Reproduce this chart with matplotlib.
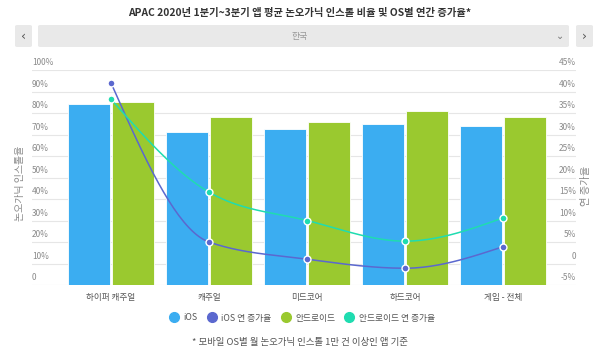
import numpy as np
import matplotlib
matplotlib.use('Agg')
import matplotlib.pyplot as plt
from matplotlib.patches import FancyBboxPatch
from matplotlib.lines import Line2D

plt.rcParams['font.family'] = ['Noto Sans CJK KR', 'DejaVu Sans']

# datos
categorias = ['하이퍼 캐주얼', '캐주얼', '미드코어', '하드코어', '게임 - 전체']
ios = [84, 71, 72.5, 75, 74]
android = [85, 78, 76, 81, 78]
ios_crec = [42, 5, 1, -1.1, 3.9]
android_crec = [38.2, 16.6, 10, 5.2, 10.6]
ticks_izq = [0, 10, 20, 30, 40, 50, 60, 70, 80, 90, 100]
ticks_der = [-5, 0, 5, 10, 15, 20, 25, 30, 35, 40, 45]

c_ios = '#3badf1'
c_and = '#9ac92f'
c_ios_l = '#5b68cf'
c_and_l = '#1fdcb0'
c_txt = '#8a8a8a'


def monotone(x, y, n=40):
    # curva monotona estilo d3 (monotoneX)
    x = np.asarray(x, float)
    y = np.asarray(y, float)
    h = np.diff(x)
    s = np.diff(y) / h
    m = np.zeros(len(x))
    for i in range(1, len(x) - 1):
        p = (s[i - 1] * h[i] + s[i] * h[i - 1]) / (h[i - 1] + h[i])
        m[i] = (np.sign(s[i - 1]) + np.sign(s[i])) * min(abs(s[i - 1]), abs(s[i]), 0.5 * abs(p))
    m[0] = (3 * s[0] - m[1]) / 2
    m[-1] = (3 * s[-1] - m[-2]) / 2
    xs, ys = [], []
    for i in range(len(x) - 1):
        t = np.linspace(0, 1, n)
        h00 = 2 * t**3 - 3 * t**2 + 1
        h10 = t**3 - 2 * t**2 + t
        h01 = -2 * t**3 + 3 * t**2
        h11 = t**3 - t**2
        xs.extend(x[i] + t * h[i])
        ys.extend(h00 * y[i] + h10 * h[i] * m[i] + h01 * y[i + 1] + h11 * h[i] * m[i + 1])
    return np.array(xs), np.array(ys)


W, H = 600, 357
fig = plt.figure(figsize=(6, 3.57), dpi=100)

# ejes: rejilla de x=32 a 576 px, y=70 a 285 px
ax = fig.add_axes([32 / W, (H - 285) / H, 544 / W, 215 / H])
x = np.arange(len(categorias))
px_cat = 98.0
ax.set_xlim(-0.5 - (62 - 32) / px_cat, -0.5 - (62 - 32) / px_cat + 544 / px_cat)
ax.set_ylim(0, 100)
for sp in ax.spines.values():
    sp.set_visible(False)
ax.set_xticks([])
ax.set_yticks([])

for t in ticks_izq:
    ax.axhline(t, color='#e6e6e6', lw=0.8, zorder=0)
    ax.text(0, t + 1.2, '0' if t == 0 else f'{t}%', transform=ax.get_yaxis_transform(),
            ha='left', va='bottom', fontsize=6, color=c_txt)

w = 0.43
ax.bar(x - w / 2 - 0.01, ios, w, color=c_ios, edgecolor='white', linewidth=0.6, zorder=2)
ax.bar(x + w / 2 + 0.01, android, w, color=c_and, edgecolor='white', linewidth=0.6, zorder=2)

for i, c in enumerate(categorias):
    ax.text(i, -3.5, c, ha='center', va='top', fontsize=6.2, color='#555555')

ax2 = ax.twinx()
ax2.set_ylim(-5, 45)
for sp in ax2.spines.values():
    sp.set_visible(False)
ax2.set_yticks([])
for t in ticks_der:
    ax2.text(1, t + 0.6, '0' if t == 0 else f'{t}%', transform=ax2.get_yaxis_transform(),
             ha='right', va='bottom', fontsize=6, color=c_txt)

for vals, col in [(ios_crec, c_ios_l), (android_crec, c_and_l)]:
    xs, ys = monotone(x, vals)
    ax2.plot(xs, ys, color=col, lw=1.1, zorder=3)
    ax2.plot(x, vals, 'o', color=col, markersize=5, markeredgecolor='white',
             markeredgewidth=1, zorder=4)

fig.text(20 / W, 1 - 183 / H, '논오가닉 인스톨율', rotation=90, ha='center', va='center',
         fontsize=7.2, color=c_txt)
fig.text(586 / W, 1 - 186 / H, '연 증가율', rotation=90, ha='center', va='center',
         fontsize=7.4, color=c_txt)

# titulo y selector
fig.text(0.5, 1 - 13 / H, 'APAC 2020년 1분기~3분기 앱 평균 논오가닉 인스톨 비율 및 OS별 연간 증가율*',
         ha='center', va='center', fontsize=7.4, fontweight='bold', color='#333333')
for (x0, x1) in [(15, 32), (38, 569), (576, 593)]:
    fig.patches.append(FancyBboxPatch((x0 / W, 1 - 47 / H), (x1 - x0) / W, 22 / H,
                                      boxstyle='round,pad=0,rounding_size=0.004',
                                      transform=fig.transFigure, facecolor='#e9e9e9',
                                      edgecolor='none'))
fig.text(23.5 / W, 1 - 36 / H, '‹', ha='center', va='center', fontsize=9, color='#555555',
         family='DejaVu Sans')
fig.text(584.5 / W, 1 - 36 / H, '›', ha='center', va='center', fontsize=9, color='#555555',
         family='DejaVu Sans')
fig.text(560 / W, 1 - 36 / H, '⌄', ha='center', va='center', fontsize=7, color='#777777',
         family='DejaVu Sans')
fig.text(0.5, 1 - 36 / H, '한국', ha='center', va='center', fontsize=6.4, color='#999999')

# leyenda
handles = [Line2D([], [], marker='o', ls='', color=c, markersize=7, label=l)
           for c, l in [(c_ios, 'iOS'), (c_ios_l, 'iOS 연 증가율'),
                        (c_and, '안드로이드'), (c_and_l, '안드로이드 연 증가율')]]
fig.legend(handles=handles, loc='center', bbox_to_anchor=(0.5, 1 - 318 / H), ncol=4,
           frameon=False, fontsize=6.3, handletextpad=0.1, columnspacing=0.6,
           labelcolor='#555555')

fig.text(0.5, 1 - 342 / H, '* 모바일 OS별 월 논오가닉 인스톨 1만 건 이상인 앱 기준',
         ha='center', va='center', fontsize=6.8, color='#555555')

plt.savefig('out.png', dpi=100)
